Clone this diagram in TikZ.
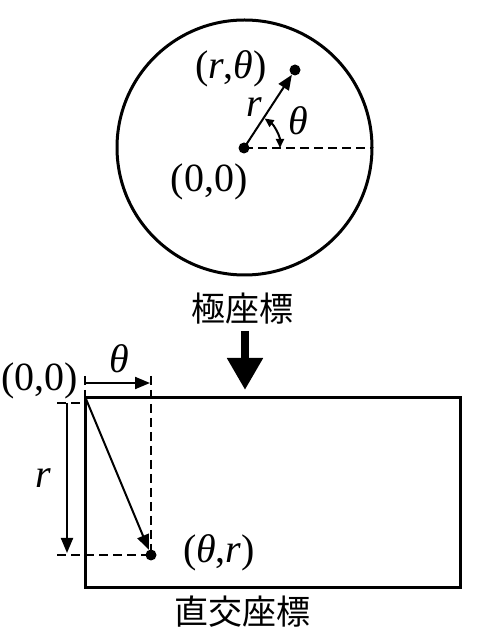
\documentclass[tikz,border=0pt]{standalone}
\usepackage{fontspec}
\setmainfont{Liberation Serif}
\newfontfamily\jpfont{Noto Sans CJK JP}
\usetikzlibrary{arrows.meta}
\tikzset{
  dot/.style={circle,fill=black,inner sep=0pt,minimum size=11pt},
  lbl/.style={inner sep=0pt,font=\fontsize{40}{42}\selectfont},
  jp/.style={inner sep=0pt,font=\jpfont\fontsize{34}{36}\selectfont},
  thin/.style={line width=2pt},
  dsh/.style={line width=1.8pt,dash pattern=on 9pt off 5pt},
  arr/.style={thin,-{Triangle[width=12pt,length=15pt]}},
}
\begin{document}
\begin{tikzpicture}[x=1pt,y=1pt]
\useasboundingbox (0,0) rectangle (483,635);
% polar
\node[circle,draw,line width=3pt,minimum size=255pt,inner sep=0pt] (circ) at (244.5,487.5) {};
\node[dot] (O) at (244,487) {};
\node[dot] (P) at (295,565) {};
\coordinate (E) at (372,487);
\draw[dsh] (O.center) -- (E);
\draw[arr] (O.center) -- (P);
\draw[thin,{Triangle[width=8pt,length=9pt]}-{Triangle[width=8pt,length=9pt]}] (280,487) arc[start angle=0,end angle=55,radius=36];
\node[lbl] (rt) at (231,566) {(\textit{r},\textit{θ})};
\node[lbl] (rl) at (254,528) {\textit{r}};
\node[lbl] (tl) at (298,514) {\textit{θ}};
\node[lbl] (o1) at (209,453) {(0,0)};
\node[jp] (polar) at (242,326) {極座標};
% big arrow
\coordinate (B1) at (245,304);
\coordinate (B2) at (245,245);
\draw[line width=8pt,-{Triangle[width=34pt,length=32pt]}] (B1) -- (B2);
% rectangle
\node[draw,line width=3pt,minimum width=375pt,minimum height=190pt,inner sep=0pt] (rect) at (272.5,142) {};
\coordinate (A) at (86,236);
\node[dot] (Q) at (151,80) {};
\draw[arr] (A) -- (Q);
% theta arrow
\coordinate (T1) at (85,252);
\coordinate (T2) at (150,252);
\draw[arr] (T1) -- (T2);
\coordinate (TA) at (85,259);
\coordinate (TB) at (85,237);
\draw[dsh] (TA) -- (TB);
\coordinate (TC) at (151,259);
\draw[dsh] (TC) -- (Q.center);
\node[lbl] (tl2) at (119,276) {\textit{θ}};
\node[lbl] (o2) at (40,254) {(0,0)};
% r arrow
\coordinate (R1) at (67,232);
\coordinate (R2) at (67,82);
\draw[arr] (R1) -- (R2);
\node[lbl] (rl2) at (43,157) {\textit{r}};
\coordinate (H1) at (57,232);
\coordinate (H2) at (85,232);
\draw[dsh] (H1) -- (H2);
\coordinate (H3) at (57,80);
\draw[dsh] (H3) -- (Q.center);
\node[lbl] (tr) at (219,82) {(\textit{θ},\textit{r})};
\node[jp] (cart) at (242,23) {直交座標};
\end{tikzpicture}
\end{document}
